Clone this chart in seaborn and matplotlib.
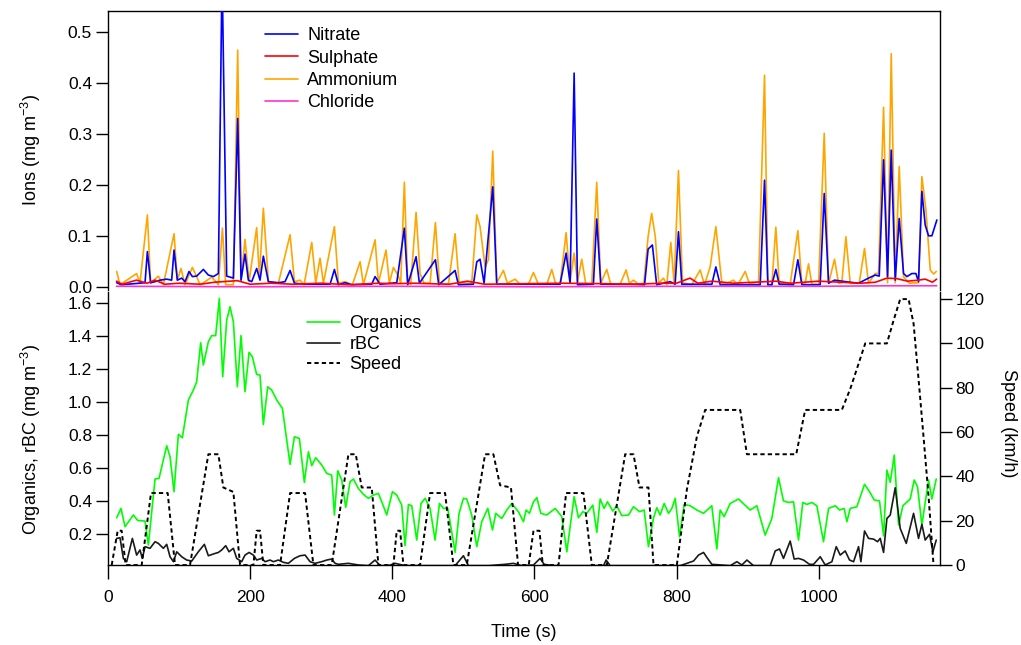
import matplotlib
matplotlib.use("Agg")
import matplotlib.pyplot as plt
from matplotlib.ticker import FormatStrFormatter, FixedLocator
import seaborn as sns

# ---------------- data ----------------
# Ions panel
ammonium_t = [12.2, 16.9, 40.3, 45.0, 55.4, 60.0, 70.8, 77.9, 92.9, 97.6,
              102.7, 108.4, 118.7, 124.8, 129.5, 136.5, 146.0, 155.3, 161.0, 165.6,
              176.4, 182.5, 187.2, 192.8, 198.5, 209.2, 213.0, 218.6, 225.7, 239.7,
              256.2, 262.3, 270.2, 275.9, 286.7, 292.3, 298.4, 303.1, 318.6, 324.2,
              333.6, 343.9, 354.7, 359.4, 375.8, 380.5,
              391.2, 395.9, 401.6, 408.6, 411.9, 417.0, 421.7, 426.0, 433.5, 439.1,
              444.7, 453.2, 460.7, 466.3, 479.0, 488.4, 494.0, 511.8, 518.9, 523.5,
              530.6, 535.3, 541.4, 547.0, 556.4, 562.0, 572.8, 579.8, 591.6, 598.6,
              605.6, 617.4, 624.4, 630.1, 636.1, 644.6, 650.2, 655.9, 660.6, 666.6,
              672.3, 680.7, 687.7, 693.4, 701.8, 707.4, 720.6, 729.0, 733.7, 739.4,
              746.4, 754.0, 760.0, 765.0, 770.0, 775.0,
              781.6, 786.3, 791.9, 796.6, 802.7, 808.4, 821.5, 833.2, 839.3, 847.3,
              855.3, 863.7, 870.8, 880.1, 886.3, 896.6, 902.2, 915.3, 923.8, 928.5,
              934.1, 939.7, 944.4, 959.9, 970.7, 976.3, 981.0, 985.7, 990.4, 999.8,
              1007.8, 1013.9, 1022.3, 1028.0, 1032.6, 1038.3, 1044.4, 1057.0, 1064.5, 1070.1,
              1079.5, 1084.2, 1091.3, 1096.9, 1102.1, 1107.7, 1113.3, 1119.4, 1127.4, 1140.5,
              1145.2, 1150.9, 1157.0, 1161.7, 1165.4]
ammonium_v = [0.031, 0.005, 0.027, 0.008, 0.142, 0.008, 0.022, 0.005, 0.105, 0.014,
              0.037, 0.005, 0.039, 0.021, 0.005, 0.011, 0.020, 0.005, 0.116, 0.005,
              0.005, 0.465, 0.014, 0.094, 0.011, 0.117, 0.021, 0.155, 0.011, 0.008,
              0.103, 0.011, 0.014, 0.005, 0.088, 0.009, 0.057, 0.008, 0.119, 0.008,
              0.011, 0.005, 0.050, 0.005, 0.093, 0.008,
              0.073, 0.008, 0.039, 0.022, 0.008, 0.206, 0.008, 0.006, 0.147, 0.027,
              0.008, 0.008, 0.127, 0.008, 0.006, 0.105, 0.008, 0.008, 0.142, 0.119,
              0.040, 0.054, 0.267, 0.009, 0.033, 0.008, 0.016, 0.006, 0.006, 0.029,
              0.006, 0.006, 0.035, 0.006, 0.006, 0.107, 0.011, 0.067, 0.011, 0.055,
              0.006, 0.006, 0.206, 0.008, 0.035, 0.006, 0.006, 0.034, 0.008, 0.014,
              0.006, 0.008, 0.100, 0.145, 0.100, 0.008,
              0.018, 0.005, 0.088, 0.008, 0.229, 0.009, 0.005, 0.034, 0.005, 0.040,
              0.119, 0.008, 0.008, 0.014, 0.005, 0.031, 0.008, 0.005, 0.416, 0.005,
              0.005, 0.118, 0.008, 0.006, 0.111, 0.008, 0.008, 0.046, 0.006, 0.006,
              0.302, 0.008, 0.055, 0.008, 0.009, 0.099, 0.008, 0.008, 0.076, 0.008,
              0.027, 0.027, 0.353, 0.009, 0.458, 0.009, 0.237, 0.021, 0.008, 0.009,
              0.217, 0.152, 0.034, 0.026, 0.031]

nitrate_t = [12.2, 19.2, 52.1, 55.4, 60.0, 66.2, 73.2, 82.6, 89.6, 92.9,
             97.6, 103.7, 108.4, 114.0, 118.7, 124.8, 134.2, 141.2, 148.3, 155.3,
             160.5, 167.0, 176.4, 182.5, 187.2, 192.8, 197.5, 202.2, 209.2, 213.9,
             218.6, 225.7, 239.7, 249.1, 256.2, 262.3, 277.3, 300.7, 312.5, 318.6,
             324.2, 333.6, 343.0, 371.1, 375.8, 382.8,
             406.3, 417.0, 421.7, 433.5, 438.2, 460.7, 465.4, 488.4, 493.0, 514.2,
             518.9, 523.5, 529.2, 541.4, 547.0, 636.1, 644.6, 650.2, 655.9, 660.6,
             683.0, 687.7, 693.4, 739.4, 755.0, 760.0, 766.0, 772.0,
             791.0, 798.0, 802.7, 807.4, 849.7, 855.3, 861.4, 917.7, 923.8, 928.5,
             934.1, 939.7, 944.4, 964.6, 970.7, 976.3, 1002.1, 1007.8, 1013.9, 1022.3,
             1038.3, 1056.1, 1064.5, 1070.1, 1079.5, 1085.2, 1091.3, 1096.9, 1102.1, 1107.7,
             1113.3, 1119.4, 1124.1, 1131.1, 1136.8, 1140.5, 1145.2, 1149.9, 1154.6, 1159.3,
             1166.3]
nitrate_v = [0.009, 0.005, 0.009, 0.070, 0.009, 0.011, 0.014, 0.016, 0.014, 0.073,
             0.014, 0.018, 0.011, 0.031, 0.021, 0.022, 0.035, 0.024, 0.021, 0.027,
             0.620, 0.022, 0.018, 0.331, 0.014, 0.065, 0.014, 0.011, 0.037, 0.014,
             0.061, 0.011, 0.009, 0.011, 0.033, 0.008, 0.006, 0.006, 0.006, 0.035,
             0.005, 0.009, 0.005, 0.006, 0.021, 0.006,
             0.009, 0.116, 0.005, 0.060, 0.008, 0.054, 0.005, 0.033, 0.005, 0.006,
             0.050, 0.055, 0.008, 0.197, 0.006, 0.006, 0.067, 0.008, 0.420, 0.005,
             0.006, 0.134, 0.006, 0.006, 0.005, 0.075, 0.083, 0.005,
             0.011, 0.006, 0.109, 0.006, 0.006, 0.040, 0.005, 0.005, 0.210, 0.005,
             0.005, 0.035, 0.006, 0.005, 0.054, 0.005, 0.005, 0.184, 0.008, 0.014,
             0.011, 0.008, 0.014, 0.018, 0.024, 0.022, 0.250, 0.021, 0.269, 0.014,
             0.135, 0.027, 0.021, 0.027, 0.027, 0.011, 0.188, 0.122, 0.101, 0.101,
             0.132]

sulphate_t = [12, 20, 40, 55, 66, 80, 100, 130, 150, 182,
              200, 230, 260, 300, 340, 380, 400, 430, 480, 506,
              530, 580, 640, 700, 740, 780, 800, 819, 830, 850,
              880, 940, 960, 1000, 1030, 1060, 1080, 1096, 1110, 1125,
              1140, 1150, 1160, 1166]
sulphate_v = [0.012, 0.006, 0.014, 0.008, 0.014, 0.006, 0.008, 0.006, 0.010, 0.013,
              0.006, 0.008, 0.006, 0.008, 0.005, 0.008, 0.007, 0.008, 0.006, 0.012,
              0.006, 0.007, 0.008, 0.007, 0.006, 0.008, 0.008, 0.018, 0.008, 0.012,
              0.008, 0.012, 0.008, 0.012, 0.010, 0.008, 0.010, 0.018, 0.017, 0.012,
              0.014, 0.016, 0.010, 0.016]

chloride_t = [12, 200, 400, 600, 800, 1000, 1100, 1166]
chloride_v = [0.002, 0.001, 0.002, 0.001, 0.002, 0.002, 0.003, 0.003]

# Organics / rBC / Speed panel
organics_t = [12.2, 18.3, 23.9, 35.7, 41.8, 52.1, 56.8, 66.2, 71.8, 82.6,
              87.3, 92.9, 99.0, 104.6, 113.1, 120.1, 124.8, 130.4, 134.2, 141.2,
              145.9, 151.5, 156.7, 161.4, 167.0, 171.7, 176.4, 182.0, 187.2, 192.8,
              198.5, 203.1, 209.2, 213.9, 218.6, 224.7, 230.3, 237.4, 245.4, 250.5,
              256.2, 262.3, 269.3, 276.3, 282.0, 286.7, 292.3, 300.7, 307.8, 314.8,
              318.6, 323.3, 328.9, 334.5, 340.6, 345.3, 352.3, 359.4, 366.4, 373.5,
              380.5, 386.1, 392.2, 400.2, 406.3, 413.3, 418.0, 422.7, 427.4, 434.4,
              440.5, 446.2, 453.2, 460.2, 466.4, 472.0, 478.1, 488.4, 494.0, 500.1,
              504.8, 511.8, 518.9, 525.9, 534.4, 541.0, 545.6, 554.1, 561.1, 568.1,
              577.5,
              584.6, 588.3, 593.0, 598.7, 603.4, 609.0, 617.4, 629.2, 638.5, 645.6,
              655.9, 662.0, 668.1, 673.7, 682.2, 687.8, 692.5, 698.1, 702.8, 710.3,
              715.9, 723.0, 732.4, 739.4, 747.9, 754.4, 760.5, 767.6, 772.3, 776.9,
              782.6, 788.7, 793.4, 798.1, 804.2, 810.7, 819.2, 828.5, 837.9, 849.6,
              856.7, 861.4, 867.0, 875.5, 887.2, 903.6, 913.0, 924.7, 934.1, 943.5,
              950.5, 957.6, 964.6, 971.6, 977.7, 983.4, 990.4, 997.4, 1006.8, 1013.9,
              1023.3, 1029.4, 1035.9, 1039.7, 1044.4, 1053.7, 1064.5, 1071.6, 1078.1, 1085.6,
              1091.3, 1096.0, 1100.7, 1106.3, 1112.4, 1118.5, 1128.8, 1134.4, 1139.1, 1145.2,
              1154.6, 1159.3, 1165.4]
organics_v = [0.300, 0.357, 0.246, 0.317, 0.284, 0.280, 0.135, 0.535, 0.539, 0.737,
              0.670, 0.458, 0.806, 0.785, 1.014, 1.074, 1.125, 1.361, 1.226, 1.367,
              1.404, 1.404, 1.630, 1.155, 1.498, 1.579, 1.488, 1.094, 1.404, 1.064,
              1.303, 1.276, 1.169, 1.165, 0.866, 1.094, 1.074, 1.014, 0.963, 0.802,
              0.624, 0.791, 0.781, 0.515, 0.700, 0.616, 0.664, 0.620, 0.569, 0.559,
              0.317, 0.585, 0.529, 0.363, 0.519, 0.535, 0.478, 0.442, 0.418, 0.438,
              0.448, 0.387, 0.317, 0.458, 0.438, 0.377, 0.131, 0.381, 0.373, 0.165,
              0.387, 0.418, 0.357, 0.165, 0.387, 0.357, 0.357, 0.090, 0.327, 0.418,
              0.414, 0.317, 0.125, 0.276, 0.357, 0.226, 0.327, 0.296, 0.347, 0.387,
              0.337,
              0.276, 0.347, 0.327, 0.397, 0.422, 0.327, 0.317, 0.357, 0.307, 0.094,
              0.428, 0.300, 0.337, 0.327, 0.377, 0.212, 0.414, 0.357, 0.397, 0.341,
              0.373, 0.313, 0.317, 0.367, 0.337, 0.347, 0.125, 0.300, 0.361, 0.317,
              0.387, 0.327, 0.357, 0.418, 0.185, 0.381, 0.373, 0.347, 0.327, 0.373,
              0.111, 0.347, 0.307, 0.387, 0.414, 0.347, 0.373, 0.195, 0.296, 0.543,
              0.402, 0.393, 0.397, 0.165, 0.393, 0.381, 0.393, 0.373, 0.155, 0.357,
              0.373, 0.347, 0.357, 0.276, 0.357, 0.367, 0.503, 0.458, 0.408, 0.402,
              0.191, 0.589, 0.515, 0.680, 0.256, 0.373, 0.414, 0.529, 0.488, 0.256,
              0.529, 0.414, 0.535]

rbc_t = [12.2, 16.9, 21.6, 26.3, 34.3, 40.3, 45.0, 48.3, 52.1, 59.1,
         66.2, 70.8, 77.9, 82.6, 87.3, 92.0, 96.7, 103.7, 110.7, 117.8,
         127.1, 135.6, 141.2, 150.6, 155.3, 160.0, 165.6, 170.3, 176.4, 181.1,
         188.1, 192.8, 198.5, 204.6, 209.2, 216.3, 221.0, 228.0, 232.7, 239.7,
         246.8, 253.8, 262.3, 270.2, 277.3, 284.3, 291.3, 300.7, 307.8, 314.8,
         319.5, 324.2, 338.3, 352.3, 366.4, 375.8, 382.8, 394.6, 404.0, 418.0,
         441.5, 465.0, 488.4, 500.1, 507.2, 535.3, 558.8, 570.5, 582.2,
         598.7, 608.0, 613.7, 626.8, 697.2, 700.9, 706.6, 805.1, 814.5, 823.9,
         830.9, 838.0, 843.6, 849.7, 875.5, 884.9, 891.9, 899.0, 908.3, 931.8,
         938.8, 944.9, 950.5, 959.9, 965.5, 971.6, 978.7, 987.1, 992.8, 1002.2,
         1009.2, 1018.6, 1024.7, 1030.3, 1037.3, 1043.4, 1049.1, 1056.1, 1059.4, 1064.5,
         1070.2, 1077.2, 1082.8, 1086.6, 1091.3, 1096.0, 1100.7, 1107.7, 1114.7, 1123.2,
         1133.5, 1140.5, 1145.2, 1149.9, 1156.0, 1160.7, 1165.4]
rbc_v = [0.175, 0.179, 0.054, 0.034, 0.175, 0.074, 0.105, 0.054, 0.125, 0.115,
         0.155, 0.145, 0.115, 0.139, 0.064, 0.034, 0.094, 0.064, 0.044, 0.038,
         0.094, 0.139, 0.070, 0.084, 0.090, 0.105, 0.131, 0.094, 0.115, 0.054,
         0.034, 0.074, 0.090, 0.074, 0.044, 0.054, 0.034, 0.044, 0.034, 0.044,
         0.030, 0.024, 0.054, 0.070, 0.074, 0.034, 0.024, 0.034, 0.044, 0.050,
         0.024, 0.018, 0.024, 0.014, 0.010, 0.044, 0.010, 0.010, 0.024, 0.010,
         0.010, 0.010, 0.010, 0.070, 0.010, 0.010, 0.018, 0.024, 0.010,
         0.014, 0.054, 0.018, 0.010, 0.010, 0.044, 0.010, 0.010, 0.024, 0.038,
         0.074, 0.090, 0.054, 0.018, 0.010, 0.034, 0.014, 0.044, 0.010, 0.010,
         0.099, 0.111, 0.054, 0.159, 0.050, 0.054, 0.044, 0.018, 0.018, 0.064,
         0.014, 0.034, 0.125, 0.074, 0.099, 0.044, 0.034, 0.125, 0.034, 0.220,
         0.175, 0.171, 0.155, 0.175, 0.090, 0.296, 0.317, 0.482, 0.236, 0.145,
         0.327, 0.175, 0.260, 0.165, 0.200, 0.094, 0.165]

speed_t = [5.2, 13.6, 19.2, 24.9, 47.4, 60.5, 84.0, 94.3, 115.4, 141.2,
           155.3, 162.3, 176.4, 185.8, 204.6, 209.2, 213.9, 218.6, 242.1, 256.2,
           277.3, 289.0, 314.8, 338.3, 348.6, 357.0, 371.1, 380.5, 401.6, 406.3,
           411.0, 415.7, 439.1, 453.2, 474.3, 486.0, 504.8, 530.6, 542.3, 551.7,
           567.0, 577.0, 592.0, 598.7, 607.1, 611.8, 633.9, 644.6, 669.0, 680.8,
           701.9, 727.7, 739.4, 747.9, 760.5, 767.6, 800.4, 814.5, 828.6, 840.3,
           889.6, 899.0, 968.4, 981.0, 1032.6, 1045.0, 1065.5, 1096.0, 1105.0, 1114.7,
           1126.5, 1133.5, 1140.5, 1147.5, 1154.6, 1161.6]
speed_v = [0, 15.5, 15.5, 0, 0, 32.5, 32.5, 0, 0, 50,
           50, 35, 33, 0, 0, 15.5, 15.5, 0, 0, 32.5,
           32.5, 0, 0, 50, 50, 35, 35, 0, 0, 15.5,
           15.5, 0, 0, 32.5, 32.5, 0, 0, 50, 50, 36,
           35, 0, 0, 15.5, 15.5, 0, 0, 32.5, 32.5, 0,
           0, 50, 50, 35, 35, 0, 0, 34, 58, 70,
           70, 50, 50, 70, 70, 80, 100, 100, 110, 120,
           120, 109, 84, 58, 31, 0]

y_ions_ticks = [0.0, 0.1, 0.2, 0.3, 0.4, 0.5]
y_org_ticks = [0.2, 0.4, 0.6, 0.8, 1.0, 1.2, 1.4, 1.6]
y_speed_ticks = [0, 20, 40, 60, 80, 100, 120]
x_ticks = [0, 200, 400, 600, 800, 1000]

# ---------------- style ----------------
sns.set_style("ticks")
plt.rcParams['font.family'] = ['Liberation Sans', 'DejaVu Sans']
plt.rcParams['mathtext.default'] = 'regular'
plt.rcParams['axes.edgecolor'] = 'black'
plt.rcParams['axes.linewidth'] = 1.0
plt.rcParams['xtick.color'] = 'black'
plt.rcParams['ytick.color'] = 'black'
plt.rcParams['text.color'] = 'black'
plt.rcParams['axes.labelcolor'] = 'black'

FS_TICK = 12.5
FS_LAB = 13
FS_LEG = 13

W_PX, H_PX = 1021, 645
fig = plt.figure(figsize=(W_PX / 100, H_PX / 100), dpi=100)
left = 108 / W_PX
width = (939.5 - 108) / W_PX
ax1 = fig.add_axes([left, 1 - 290 / H_PX, width, (290 - 11) / H_PX])
ax2 = fig.add_axes([left, 1 - 565.3 / H_PX, width, (565.3 - 292) / H_PX])
ax3 = ax2.twinx()

LW = 1.2
# top panel: ions
sns.lineplot(x=nitrate_t, y=nitrate_v, ax=ax1, color='#0000ff', lw=LW, label='Nitrate', zorder=3)
sns.lineplot(x=sulphate_t, y=sulphate_v, ax=ax1, color='#ff0000', lw=LW, label='Sulphate', zorder=4)
sns.lineplot(x=ammonium_t, y=ammonium_v, ax=ax1, color='#ffa500', lw=LW, label='Ammonium', zorder=2)
sns.lineplot(x=chloride_t, y=chloride_v, ax=ax1, color='#ff33cc', lw=LW, label='Chloride', zorder=5)

# bottom panel
sns.lineplot(x=organics_t, y=organics_v, ax=ax2, color='#00ff00', lw=LW, label='Organics')
sns.lineplot(x=rbc_t, y=rbc_v, ax=ax2, color='#1a1a1a', lw=LW, label='rBC')
sns.lineplot(x=speed_t, y=speed_v, ax=ax3, color='black', lw=1.4,
             linestyle=(0, (2.2, 1.6)), label='Speed')

# axes limits
for ax in (ax1, ax2, ax3):
    ax.set_xlim(0, 1170)
ax1.set_ylim(-0.0053, 0.5418)
ax2.set_ylim(0.0121, 1.6685)
ax3.set_ylim(-0.1, 123.2)

# spines
ax1.spines['bottom'].set_visible(False)
for s in ('top', 'left', 'right'):
    ax1.spines[s].set_visible(True)
ax2.spines['top'].set_visible(False)
ax2.spines['right'].set_visible(False)
ax3.spines['top'].set_visible(False)
ax3.spines['left'].set_visible(False)
ax3.spines['bottom'].set_visible(False)
ax3.spines['right'].set_visible(True)

# ticks
ax1.yaxis.set_major_locator(FixedLocator(y_ions_ticks))
ax1.yaxis.set_major_formatter(FormatStrFormatter('%.1f'))
ax1.tick_params(axis='y', direction='out', length=8.5, width=1, pad=3, labelsize=FS_TICK,
                left=True, right=False)
ax1.tick_params(axis='x', bottom=False, labelbottom=False, top=False)

ax2.yaxis.set_major_locator(FixedLocator(y_org_ticks))
ax2.yaxis.set_major_formatter(FormatStrFormatter('%.1f'))
ax2.tick_params(axis='y', direction='out', length=8.5, width=1, pad=3, labelsize=FS_TICK,
                left=True, right=False)
ax2.xaxis.set_major_locator(FixedLocator(x_ticks))
ax2.tick_params(axis='x', direction='out', length=10, width=1, pad=8, labelsize=FS_TICK)

ax3.yaxis.set_major_locator(FixedLocator(y_speed_ticks))
ax3.tick_params(axis='y', direction='out', length=8.5, width=1, pad=3, labelsize=FS_TICK,
                right=True, left=False)
ax3.tick_params(axis='x', bottom=False, labelbottom=False)

# labels
ax1.set_xlabel('')
ax1.set_ylabel('Ions (mg m$^{-3}$)', fontsize=FS_LAB)
ax1.yaxis.set_label_coords(-0.0926, 0.5)
ax1.yaxis.label.set_va('center')

ax2.set_ylabel('Organics, rBC (mg m$^{-3}$)', fontsize=FS_LAB)
ax2.yaxis.set_label_coords(-0.0926, 0.46)
ax2.yaxis.label.set_va('center')

ax3.set_ylabel('Speed (km/h)', fontsize=FS_LAB, rotation=270)
ax3.yaxis.set_label_coords(1.0824, 0.52)
ax3.yaxis.label.set_va('center')

ax2.set_xlabel('Time (s)', fontsize=FS_LAB)
ax2.xaxis.set_label_coords(0.5, -0.215)

# legends
h1, l1 = ax1.get_legend_handles_labels()
ax1.legend(h1, l1, loc='upper left', bbox_to_anchor=(0.1888, 0.941), frameon=False,
           borderpad=0, borderaxespad=0, handlelength=1.85, handletextpad=0.5,
           labelspacing=0.29, fontsize=FS_LEG)
h2, l2 = ax2.get_legend_handles_labels()
h3, l3 = ax3.get_legend_handles_labels()
if ax2.get_legend() is not None:
    ax2.get_legend().remove()
ax3.legend(h2 + h3, l2 + l3, loc='upper left', bbox_to_anchor=(0.2393, 0.915), frameon=False,
           borderpad=0, borderaxespad=0, handlelength=1.85, handletextpad=0.5,
           labelspacing=0.2, fontsize=FS_LEG)

fig.savefig('out.png', dpi=100, facecolor='white')
